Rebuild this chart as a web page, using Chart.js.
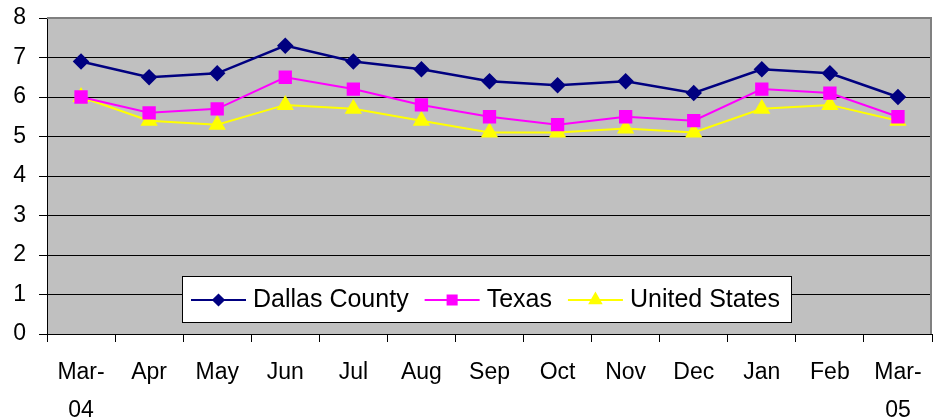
<!DOCTYPE html>
<html>
<head>
<meta charset="utf-8">
<script src="https://cdn.jsdelivr.net/npm/chart.js@4"></script>
<style>
  html, body { margin: 0; padding: 0; background: #fff; }
  #wrap { width: 933px; height: 418px; }
</style>
</head>
<body>
<div id="wrap"><canvas id="chart" width="933" height="418"></canvas></div>
<script>
// months, Mar-04 .. Mar-05
const months = [['Mar-', '04'], 'Apr', 'May', 'Jun', 'Jul', 'Aug', 'Sep', 'Oct', 'Nov', 'Dec', 'Jan', 'Feb', ['Mar-', '05']];
const dallasCounty = [6.9, 6.5, 6.6, 7.3, 6.9, 6.7, 6.4, 6.3, 6.4, 6.1, 6.7, 6.6, 6.0];
const texas = [6.0, 5.6, 5.7, 6.5, 6.2, 5.8, 5.5, 5.3, 5.5, 5.4, 6.2, 6.1, 5.5];
const unitedStates = [6.0, 5.4, 5.3, 5.8, 5.7, 5.4, 5.1, 5.1, 5.2, 5.1, 5.7, 5.8, 5.4];
const yMin = 0, yMax = 8, yStep = 1;

const FONT = 'Arial, "Liberation Sans", sans-serif';

// drop the label overhang padding so the plot box lands where we want it
const noOverhang = scale => {
  scale.paddingTop = 0;
  scale.paddingBottom = 0;
  scale.paddingLeft = 0;
  scale.paddingRight = 0;
};

// gray plot area + gray frame on top/right
const plotBox = {
  id: 'plotBox',
  beforeDraw(chart) {
    const { ctx, chartArea: a } = chart;
    ctx.save();
    ctx.fillStyle = '#c0c0c0';
    ctx.fillRect(a.left, a.top, a.right - a.left, a.bottom - a.top);
    ctx.restore();
  },
  beforeDatasetsDraw(chart) {
    const { ctx, chartArea: a } = chart;
    ctx.save();
    ctx.strokeStyle = '#808080';
    ctx.lineWidth = 2;
    ctx.beginPath();
    ctx.moveTo(a.left, a.top);
    ctx.lineTo(a.right - 1, a.top);
    ctx.lineTo(a.right - 1, a.bottom);
    ctx.stroke();
    ctx.restore();
  }
};

// excel-like legend box sitting inside the plot
const boxLegend = {
  id: 'boxLegend',
  afterDraw(chart) {
    const { ctx, chartArea: a } = chart;
    const dsets = chart.data.datasets;
    ctx.save();
    ctx.font = '25px ' + FONT;
    const lineW = 55, padL = 9, gapT = 7, gapI = 16, padR = 11, h = 46;
    const widths = dsets.map(d => ctx.measureText(d.label).width);
    let total = padL + padR + gapI * (dsets.length - 1);
    widths.forEach(w => { total += lineW + gapT + w; });
    total = Math.round(total);
    const x0 = Math.round((a.left + a.right) / 2 - total / 2) - 3;
    const y0 = a.bottom - 58;
    ctx.fillStyle = '#fff';
    ctx.fillRect(x0, y0, total, h);
    ctx.strokeStyle = '#000';
    ctx.lineWidth = 1;
    ctx.strokeRect(x0 + 0.5, y0 + 0.5, total, h);

    let x = x0 + padL;
    const cy = y0 + h / 2 + 1;
    dsets.forEach((d, i) => {
      ctx.strokeStyle = d.borderColor;
      ctx.lineWidth = 2;
      ctx.beginPath();
      ctx.moveTo(x, cy);
      ctx.lineTo(x + lineW, cy);
      ctx.stroke();
      ctx.fillStyle = d.pointBackgroundColor;
      ctx.strokeStyle = d.pointBorderColor;
      Chart.helpers.drawPoint(ctx, { pointStyle: d.pointStyle, radius: d.pointRadius * 0.8, borderWidth: 1, rotation: 0 }, x + lineW / 2, cy);
      ctx.fillStyle = '#000';
      ctx.textBaseline = 'middle';
      ctx.textAlign = 'left';
      ctx.fillText(d.label, x + lineW + gapT, cy);
      x += lineW + gapT + widths[i] + gapI;
    });
    ctx.restore();
  }
};

const ctx = document.getElementById('chart').getContext('2d');
new Chart(ctx, {
  type: 'line',
  data: {
    labels: months,
    datasets: [
      {
        label: 'Dallas County',
        data: dallasCounty,
        borderColor: '#000080',
        backgroundColor: '#000080',
        pointBackgroundColor: '#000080',
        pointBorderColor: '#000080',
        borderWidth: 2.5,
        pointStyle: 'rectRot',
        pointRadius: 6.5,
        tension: 0
      },
      {
        label: 'Texas',
        data: texas,
        borderColor: '#ff00ff',
        backgroundColor: '#ff00ff',
        pointBackgroundColor: '#ff00ff',
        pointBorderColor: '#ff00ff',
        borderWidth: 2,
        pointStyle: 'rect',
        pointRadius: 8,
        tension: 0
      },
      {
        label: 'United States',
        data: unitedStates,
        borderColor: '#ffff00',
        backgroundColor: '#ffff00',
        pointBackgroundColor: '#ffff00',
        pointBorderColor: '#ffff00',
        borderWidth: 2,
        pointStyle: 'triangle',
        pointRadius: 8,
        tension: 0
      }
    ]
  },
  options: {
    responsive: false,
    animation: false,
    layout: { autoPadding: false, padding: { top: 18, right: 1, left: 0, bottom: 0 } },
    plugins: {
      legend: { display: false },
      tooltip: { enabled: false }
    },
    scales: {
      x: {
        offset: true,
        grid: { display: true, drawOnChartArea: false, drawTicks: true, tickLength: 8, color: '#000', offset: true },
        border: { display: true, color: '#000', width: 1 },
        ticks: { color: '#000', font: { family: FONT, size: 23, lineHeight: 1.65 }, padding: 12, maxRotation: 0, autoSkip: false },
        afterFit(scale) { scale.height = 84; noOverhang(scale); }
      },
      y: {
        min: yMin,
        max: yMax,
        grid: { color: '#000', lineWidth: 1, tickLength: 8, drawTicks: true },
        border: { display: true, color: '#000', width: 1 },
        ticks: { stepSize: yStep, color: '#000', font: { family: FONT, size: 23 }, padding: 13 },
        afterFit(scale) { scale.width = 47; noOverhang(scale); }
      }
    }
  },
  plugins: [plotBox, boxLegend]
});
</script>
</body>
</html>
